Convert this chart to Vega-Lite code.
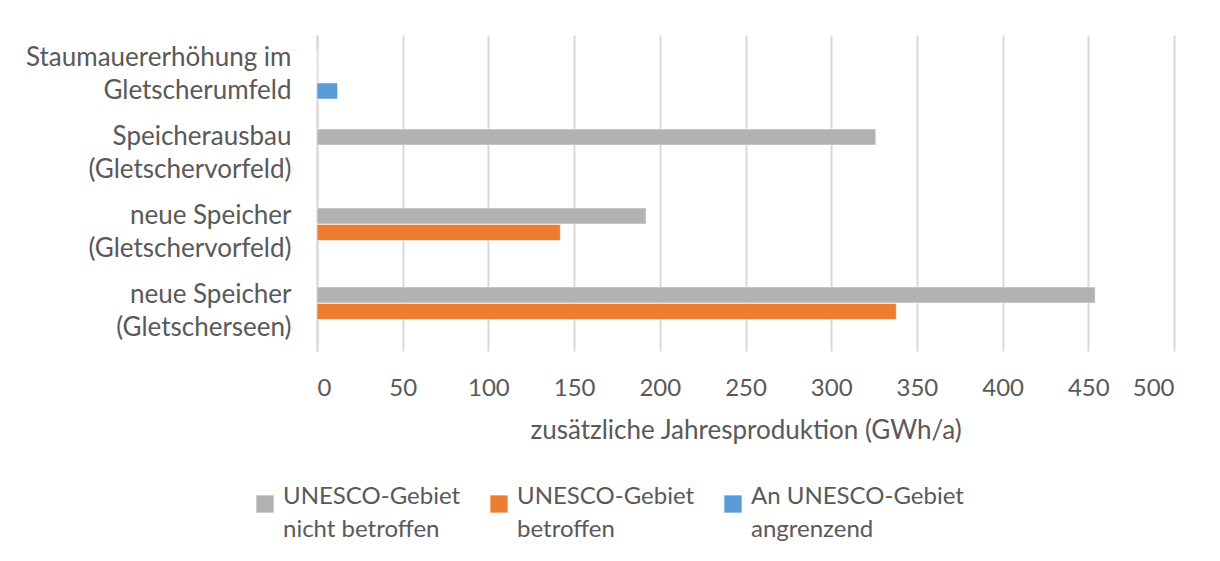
{
  "$schema": "https://vega.github.io/schema/vega-lite/v6.json",
  "autosize": "none",
  "width": 857,
  "height": 316,
  "padding": {"left": 317, "top": 35, "right": 46, "bottom": 210},
  "background": "white",
  "data": {
    "values": [
      {"kategorie": "Staumauererhöhung im\nGletscherumfeld", "serie": "UNESCO-Gebiet\nnicht betroffen", "wert": 0},
      {"kategorie": "Staumauererhöhung im\nGletscherumfeld", "serie": "UNESCO-Gebiet\nbetroffen", "wert": 0},
      {"kategorie": "Staumauererhöhung im\nGletscherumfeld", "serie": "An UNESCO-Gebiet\nangrenzend", "wert": 12},
      {"kategorie": "Speicherausbau\n(Gletschervorfeld)", "serie": "UNESCO-Gebiet\nnicht betroffen", "wert": 326},
      {"kategorie": "neue Speicher\n(Gletschervorfeld)", "serie": "UNESCO-Gebiet\nnicht betroffen", "wert": 192},
      {"kategorie": "neue Speicher\n(Gletschervorfeld)", "serie": "UNESCO-Gebiet\nbetroffen", "wert": 142},
      {"kategorie": "neue Speicher\n(Gletscherseen)", "serie": "UNESCO-Gebiet\nnicht betroffen", "wert": 454},
      {"kategorie": "neue Speicher\n(Gletscherseen)", "serie": "UNESCO-Gebiet\nbetroffen", "wert": 338}
    ]
  },
  "mark": {"type": "bar", "stroke": "white", "strokeWidth": 0.5},
  "encoding": {
    "y": {
      "field": "kategorie",
      "type": "nominal",
      "sort": ["Staumauererhöhung im\nGletscherumfeld", "Speicherausbau\n(Gletschervorfeld)", "neue Speicher\n(Gletschervorfeld)", "neue Speicher\n(Gletscherseen)"],
      "scale": {"paddingInner": 0.38, "paddingOuter": 0.19},
      "axis": {
        "title": null,
        "labelExpr": "split(datum.label, '\\n')",
        "labelLineHeight": 33,
        "labelFontSize": 26,
        "labelFont": "Lato",
        "labelColor": "#595959",
        "labelPadding": 26,
        "labelOffset": -16.5,
        "labelLimit": 400,
        "ticks": false,
        "domainColor": "#d9d9d9",
        "domainWidth": 2,
        "grid": false
      }
    },
    "yOffset": {
      "field": "serie",
      "type": "nominal",
      "scale": {"domain": ["UNESCO-Gebiet\nnicht betroffen", "UNESCO-Gebiet\nbetroffen", "An UNESCO-Gebiet\nangrenzend"], "paddingInner": 0.03}
    },
    "x": {
      "field": "wert",
      "type": "quantitative",
      "scale": {"domain": [0, 500], "nice": false},
      "axis": {
        "title": "zusätzliche Jahresproduktion (GWh/a)",
        "titleFont": "Lato",
        "titleFontSize": 26,
        "titleFontWeight": "normal",
        "titleColor": "#595959",
        "titlePadding": 17,
        "values": [0, 50, 100, 150, 200, 250, 300, 350, 400, 450, 500],
        "labelFont": "Lato",
        "labelFontSize": 24,
        "labelColor": "#595959",
        "labelPadding": 25,
        "ticks": false,
        "domain": false,
        "grid": true,
        "gridColor": "#d9d9d9",
        "gridWidth": 2
      }
    },
    "color": {
      "field": "serie",
      "type": "nominal",
      "scale": {
        "domain": ["UNESCO-Gebiet\nnicht betroffen", "UNESCO-Gebiet\nbetroffen", "An UNESCO-Gebiet\nangrenzend"],
        "range": ["#b2b2b2", "#ed7d31", "#5b9bd5"]
      },
      "legend": {
        "title": null,
        "orient": "none",
        "legendX": -64,
        "legendY": 457,
        "direction": "horizontal",
        "symbolType": "square",
        "symbolSize": 300,
        "symbolStrokeWidth": 0,
        "labelExpr": "split(datum.label, '\\n')",
        "labelFont": "Lato",
        "labelFontSize": 24,
        "labelColor": "#595959",
        "labelOffset": 6,
        "labelLimit": 300,
        "columnPadding": 26,
        "labelBaseline": "alphabetic",
        "encode": {
          "labels": {"update": {"dy": {"value": 13}}}
        }
      }
    }
  },
  "config": {
    "view": {"stroke": null},
    "style": {"guide-label": {"lineHeight": 33}}
  }
}
